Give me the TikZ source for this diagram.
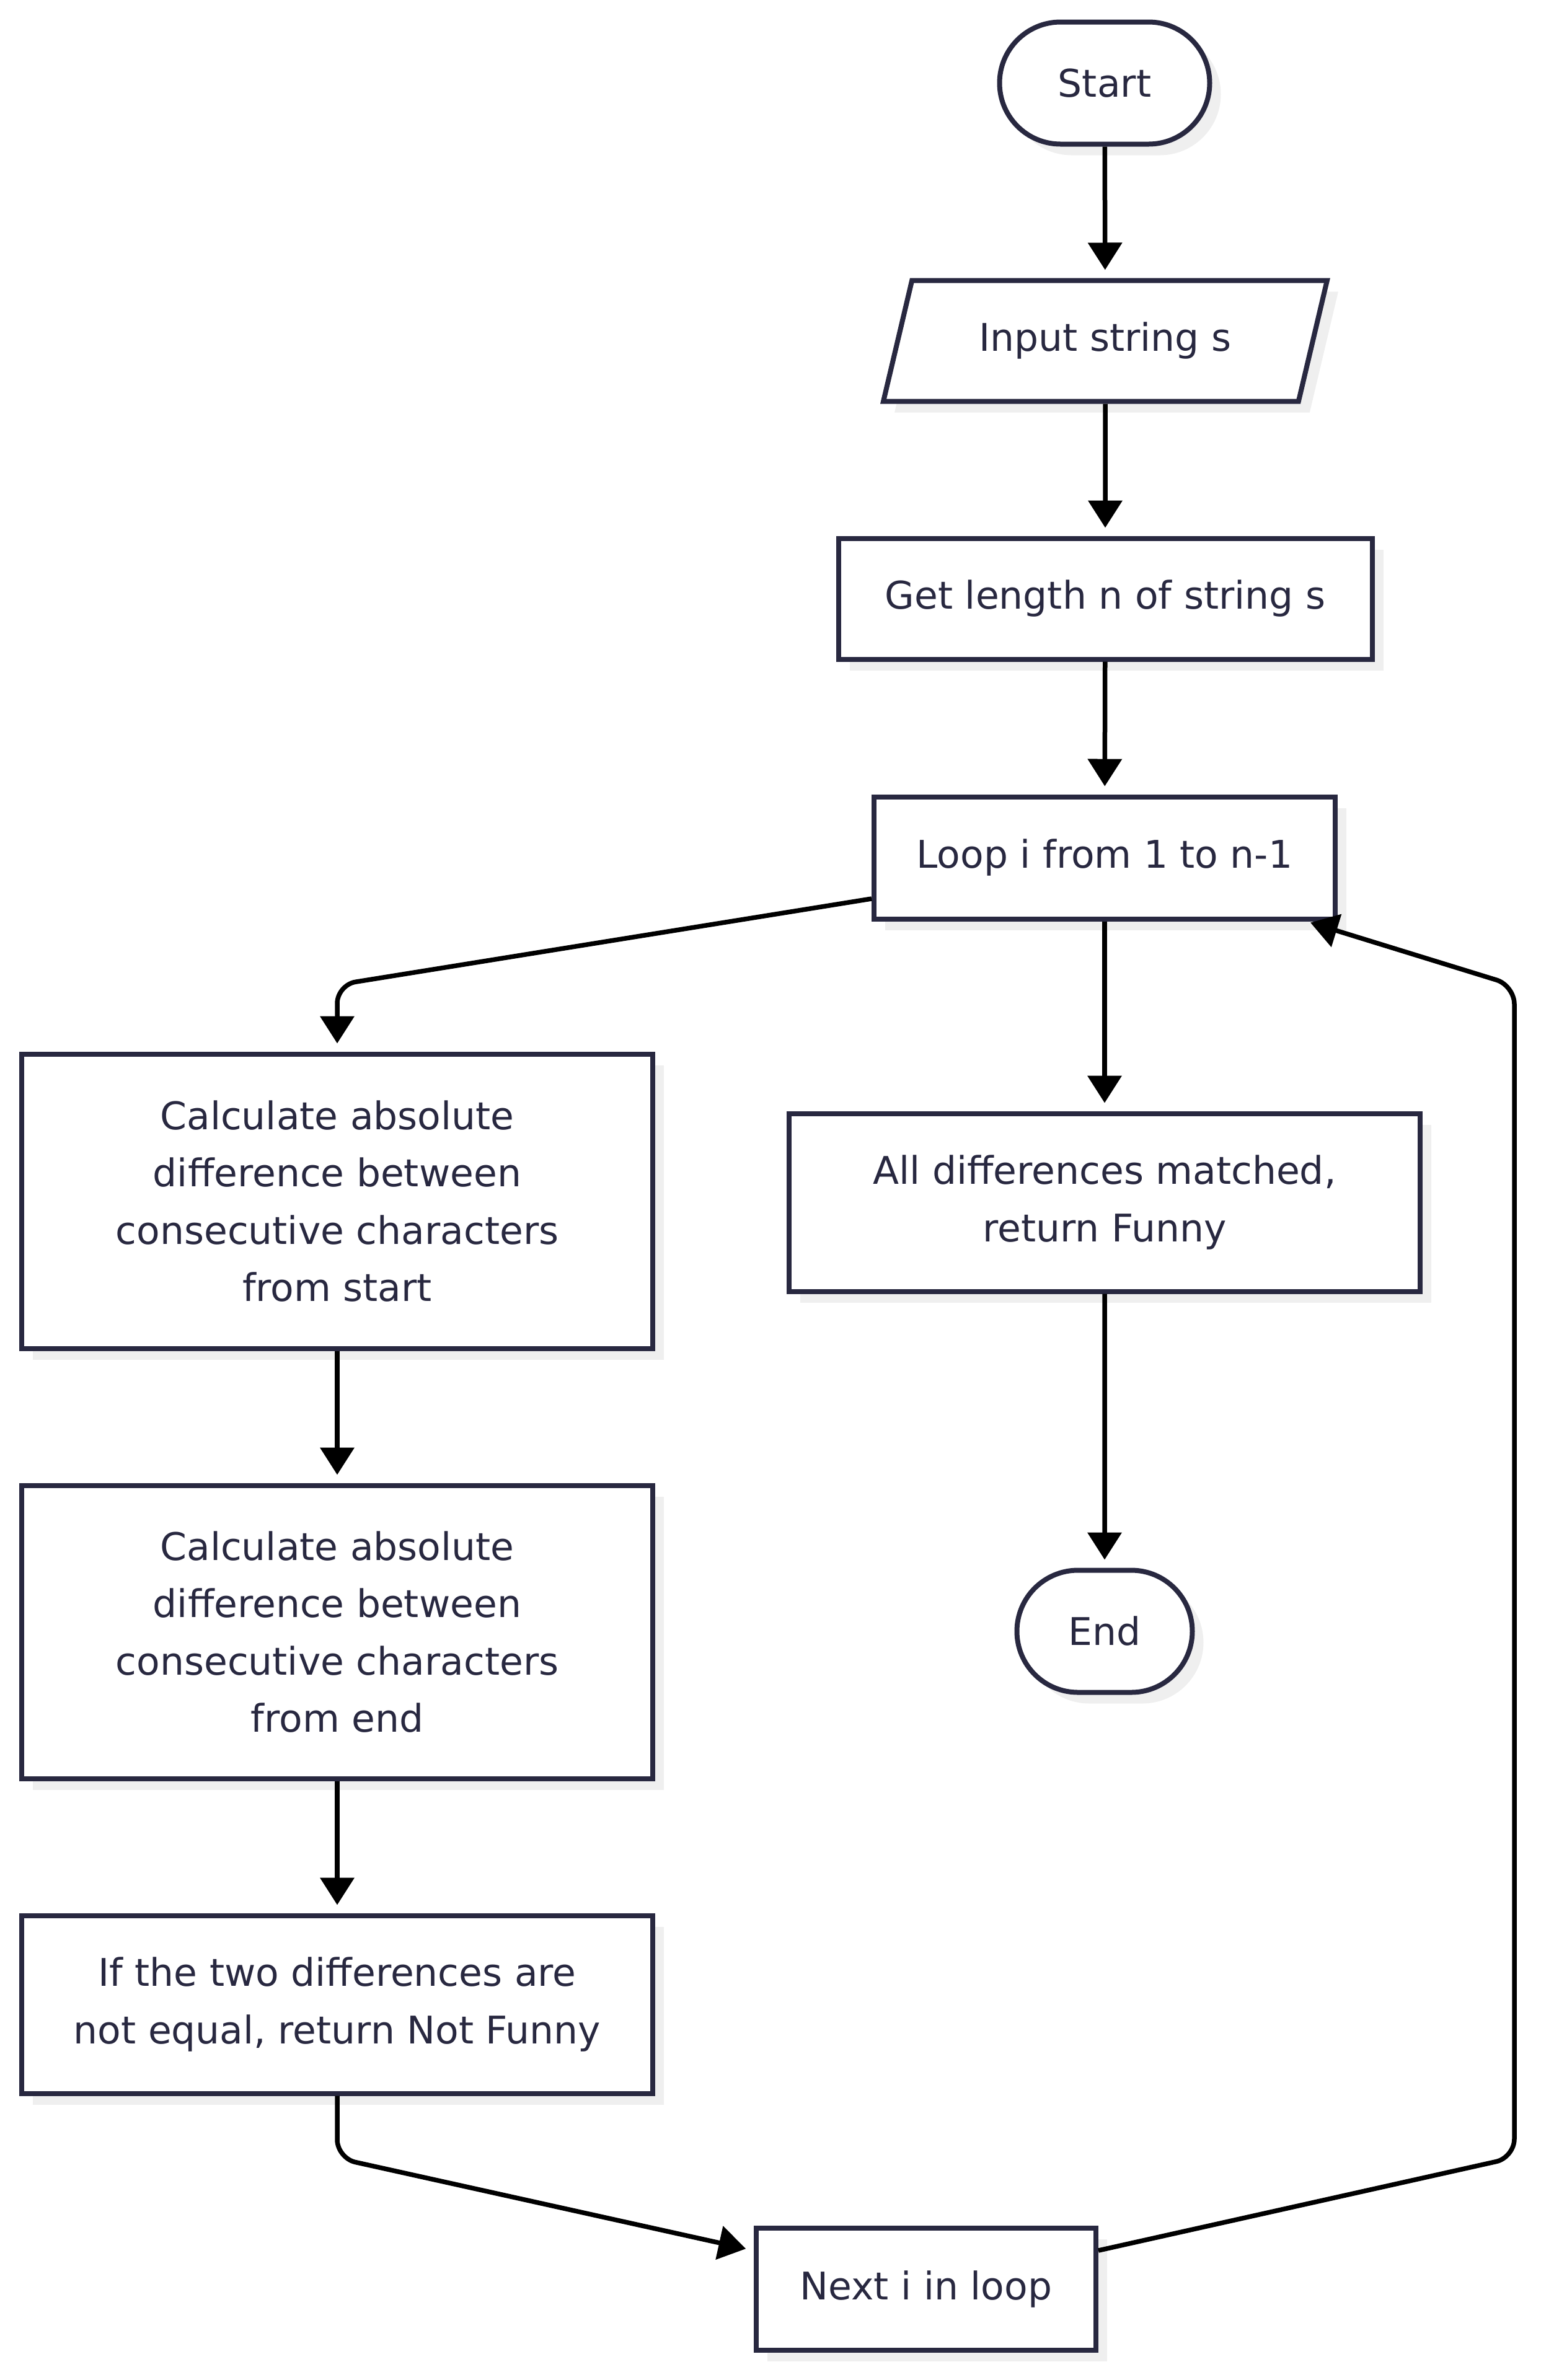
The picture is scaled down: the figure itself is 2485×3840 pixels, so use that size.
\documentclass[tikz,border=0pt]{standalone}
\usepackage{fontspec}
\setmainfont{DejaVu Sans}
\usetikzlibrary{shapes.geometric,shapes.misc,shadows,calc,arrows.meta}
\definecolor{ink}{HTML}{282840}
\definecolor{shade}{HTML}{EFEFEF}
\begin{document}
\begin{tikzpicture}[x=.1mm, y=-.1mm, line width=.75mm,
	base/.style={draw=ink, text=ink, fill=white, align=center, inner sep=0pt, line width=.8mm,
		font=\fontsize{17.5}{26.3}\selectfont,
		drop shadow={shadow xshift=1.8mm, shadow yshift=-1.8mm, fill=shade, opacity=1}},
	box/.style={base, rectangle},
	term/.style={base, rounded rectangle},
	io/.style={base, trapezium, trapezium left angle=63.2, trapezium right angle=116.8, trapezium stretches=true},
	flow/.style={draw=black, -{Triangle[length=4.4mm, width=5.4mm]}, shorten >=1.3mm, rounded corners=3mm}]
	\useasboundingbox (0,0) rectangle (2485,3840);
	% nodes
	\node[term, minimum width=33.9mm,  minimum height=19.7mm] (start) at (1782,134)  {Start};
	\node[io,   minimum width=71.6mm,  minimum height=19.5mm] (input) at (1783,550)  {Input string s};
	\node[box,  minimum width=86.1mm,  minimum height=19.5mm] (getn)  at (1783,966)  {Get length n of string s};
	\node[box,  minimum width=74.4mm,  minimum height=19.7mm] (loop)  at (1782,1384) {Loop i from 1 to n-1};
	\node[box,  minimum width=101.8mm, minimum height=47.5mm] (calcS) at (544,1938)  {Calculate absolute\\difference between\\consecutive characters\\from start};
	\node[box,  minimum width=101.8mm, minimum height=28.7mm] (allm)  at (1782,1940) {All differences matched,\\return Funny};
	\node[box,  minimum width=101.8mm, minimum height=47.3mm] (calcE) at (544,2633)  {Calculate absolute\\difference between\\consecutive characters\\from end};
	\node[term, minimum width=28.3mm,  minimum height=19.7mm] (stop)  at (1782,2632) {End};
	\node[box,  minimum width=101.8mm, minimum height=28.7mm] (ifne)  at (544,3234)  {If the two differences are\\not equal, return Not Funny};
	\node[box,  minimum width=54.8mm,  minimum height=19.7mm] (next)  at (1494,3693) {Next i in loop};
	% connectors
	\draw[flow] (start) -- (input);
	\draw[flow] (input) -- (getn);
	\draw[flow] (getn) -- (loop);
	\draw[flow] ($(loop.west)+(0,66)$) -- (544,1589) -- (calcS.north);
	\draw[flow] (loop) -- (allm);
	\draw[flow] (calcS) -- (calcE);
	\draw[flow] (calcE) -- (ifne);
	\draw[flow] (allm) -- (stop);
	\draw[flow] (ifne.south) -- (544,3482) -- ($(next.west)+(0,-62)$);
	\draw[flow, shorten >=0mm] ($(next.east)+(0,-62)$) -- (2443,3481) -- (2443,1590) -- ($(loop.south east)+(-44,2)$);
\end{tikzpicture}
\end{document}
